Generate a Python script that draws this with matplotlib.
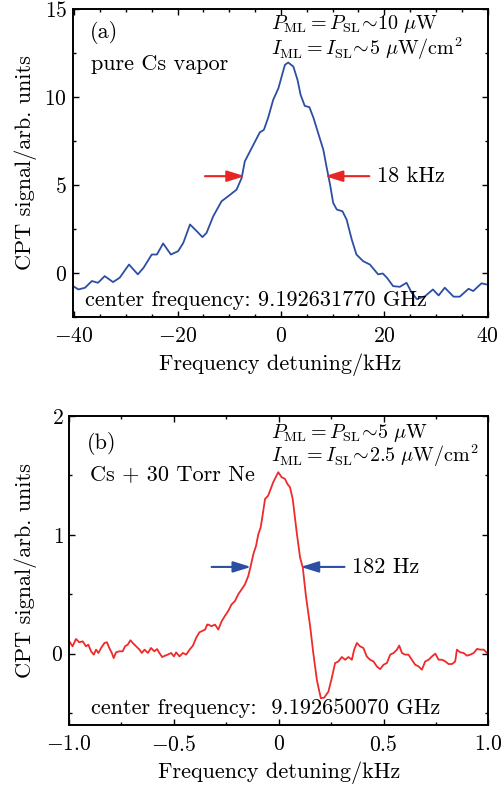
import matplotlib
matplotlib.use("Agg")
import matplotlib.pyplot as plt
from matplotlib.ticker import MultipleLocator

plt.rcParams['font.family'] = ['cmr10', 'DejaVu Serif']
plt.rcParams['mathtext.fontset'] = 'cm'
plt.rcParams['axes.formatter.use_mathtext'] = True
plt.rcParams['axes.unicode_minus'] = True

# ---- data: panel (a) pure Cs vapor ----
xa = [-40.2, -39.2, -37.9, -36.6, -35.4, -34.1, -32.5, -31.2, -29.4, -27.7,
      -26.6, -25.0, -24.0, -22.8, -21.3, -19.9, -18.9, -17.6, -16.3, -15.2,
      -14.4, -13.1, -11.5, -10.2, -8.6, -7.6, -7.0, -6.0, -5.0, -4.1,
      -3.3, -2.5, -1.5, -0.5, 0.13, 0.77, 1.4, 2.4, 3.2, 3.8,
      4.6, 5.5, 6.3, 7.2, 8.2, 8.8, 9.5, 10.1, 10.8, 11.9,
      12.7, 13.7, 14.6, 15.9, 17.2, 18.8, 19.7, 20.5, 21.7, 23.0,
      24.3, 25.3, 26.3, 27.9, 29.4, 30.5, 31.7, 33.4, 34.6, 36.3,
      37.2, 38.8, 39.7]
ya = [-0.76, -0.95, -0.85, -0.47, -0.57, -0.19, -0.53, -0.28, 0.47, -0.09,
      0.28, 1.04, 1.04, 1.67, 1.04, 1.23, 1.70, 2.75, 2.37, 2.03,
      2.27, 3.22, 4.07, 4.36, 4.73, 5.40, 6.34, 6.91, 7.48, 7.99,
      8.14, 8.81, 9.85, 10.50, 11.17, 11.84, 11.97, 11.74, 10.98, 10.13,
      9.50, 9.43, 8.81, 7.95, 7.00, 6.06, 5.02, 3.98, 3.60, 3.50,
      3.03, 1.89, 1.04, 0.66, 0.47, -0.09, -0.04, -0.28, -0.76, -0.80,
      -0.57, -1.14, -1.50, -1.33, -0.95, -1.29, -0.85, -1.36, -1.36, -0.91,
      -1.04, -0.60, -0.66]

# ---- data: panel (b) Cs + 30 Torr Ne ----
xb = [-0.999, -0.983, -0.967, -0.951, -0.935, -0.919, -0.908, -0.895, -0.882, -0.871,
      -0.860, -0.847, -0.831, -0.819, -0.808, -0.796, -0.787, -0.776, -0.760, -0.744,
      -0.733, -0.720, -0.707, -0.696, -0.680, -0.664, -0.653, -0.640, -0.624, -0.609,
      -0.593, -0.580, -0.569, -0.556, -0.542, -0.529, -0.513, -0.500, -0.489, -0.473,
      -0.457, -0.441, -0.425, -0.409, -0.394, -0.378, -0.362, -0.351, -0.341, -0.336,
      -0.320, -0.304, -0.288, -0.272, -0.257, -0.241, -0.225, -0.209, -0.193, -0.177,
      -0.161, -0.145, -0.134, -0.121, -0.108, -0.097, -0.086, -0.077, -0.065, -0.050,
      -0.038, -0.026, -0.018, -0.002, 0.014, 0.030, 0.041, 0.054, 0.067, 0.086,
      0.102, 0.115, 0.130, 0.150, 0.165, 0.182, 0.201, 0.217, 0.237, 0.253,
      0.269, 0.285, 0.301, 0.317, 0.333, 0.349, 0.360, 0.373, 0.388, 0.404,
      0.420, 0.436, 0.452, 0.468, 0.484, 0.500, 0.516, 0.532, 0.548, 0.564,
      0.575, 0.588, 0.603, 0.619, 0.635, 0.651, 0.667, 0.683, 0.699, 0.715,
      0.731, 0.747, 0.763, 0.779, 0.795, 0.810, 0.827, 0.842, 0.850, 0.866,
      0.882, 0.898, 0.914, 0.930, 0.946, 0.962, 0.978, 0.994, 1.000]
yb = [0.104, 0.062, 0.124, 0.096, 0.104, 0.062, 0.076, 0.020, -0.008, 0.034,
      0.006, 0.048, 0.090, 0.096, 0.048, 0.006, -0.037, 0.011, 0.020, 0.020,
      0.062, 0.076, 0.113, 0.090, 0.062, 0.034, 0.006, 0.034, 0.006, 0.048,
      0.020, 0.039, 0.006, -0.028, -0.017, -0.008, 0.006, -0.023, 0.011, -0.023,
      0.006, -0.008, 0.034, 0.068, 0.132, 0.180, 0.194, 0.203, 0.245, 0.245,
      0.231, 0.245, 0.203, 0.273, 0.316, 0.358, 0.414, 0.442, 0.499, 0.541,
      0.583, 0.654, 0.733, 0.837, 0.907, 1.006, 1.062, 1.161, 1.302, 1.330,
      1.386, 1.443, 1.471, 1.527, 1.485, 1.471, 1.430, 1.400, 1.300, 1.020,
      0.809, 0.724, 0.484, 0.231, 0.006, -0.220, -0.375, -0.370, -0.320, -0.206,
      -0.079, -0.065, -0.028, -0.051, -0.028, -0.051, 0.034, 0.090, 0.062, 0.048,
      -0.023, -0.051, -0.065, -0.107, -0.130, -0.093, -0.079, -0.008, 0.006, 0.034,
      0.068, 0.006, -0.008, -0.008, -0.051, -0.093, -0.107, -0.135, -0.065, -0.051,
      -0.023, 0.000, -0.051, -0.051, -0.065, -0.087, -0.087, -0.065, 0.034, 0.011,
      0.006, -0.017, -0.008, 0.006, 0.040, 0.034, 0.034, 0.006, -0.008]

FS = 16
TFS = 15.5
MFS = 14.5
BLUE = '#2c4ea3'
RED = '#ee2a2a'

fig = plt.figure(figsize=(5.02, 7.87), dpi=100)
ax1 = fig.add_axes([0.1448, 0.5976, 0.8267, 0.3906])
ax2 = fig.add_axes([0.1375, 0.0788, 0.8353, 0.3926])


def style(ax):
    for s in ax.spines.values():
        s.set_linewidth(1.4)
    ax.tick_params(which='both', direction='in', top=True, right=True,
                   labelsize=TFS, width=1.0)
    ax.tick_params(which='major', length=4)
    ax.tick_params(which='minor', length=2.5)
    ax.tick_params(axis='x', which='major', pad=7)
    ax.tick_params(axis='y', which='major', pad=4)


# ---- panel (a) ----
ax1.plot(xa, ya, color=BLUE, lw=1.3)
ax1.set_xlim(-40.3, 40)
ax1.set_ylim(-2.5, 15)
ax1.xaxis.set_major_locator(MultipleLocator(20))
ax1.xaxis.set_minor_locator(MultipleLocator(5))
ax1.yaxis.set_major_locator(MultipleLocator(5))
ax1.yaxis.set_minor_locator(MultipleLocator(2.5))
style(ax1)
ax1.set_xlabel('Frequency detuning/kHz', fontsize=FS)
ax1.set_ylabel('CPT signal/arb. units', fontsize=FS)
ax1.xaxis.set_label_coords(0.5, -0.119)
ax1.yaxis.set_label_coords(-0.086, 0.5)

arrow_kw = dict(arrowstyle='-|>,head_length=0.9,head_width=0.28', lw=1.5,
                mutation_scale=12, shrinkA=0, shrinkB=0)
ax1.annotate('', xy=(-7.0, 5.5), xytext=(-14.7, 5.5),
             arrowprops=dict(color='#e82525', **arrow_kw))
ax1.annotate('', xy=(8.5, 5.5), xytext=(17.1, 5.5),
             arrowprops=dict(color='#e82525', **arrow_kw))
ax1.text(18.5, 5.5, '18 kHz', fontsize=FS, va='center', ha='left')
ax1.text(0.042, 0.926, '(a)', transform=ax1.transAxes, fontsize=FS, va='center')
ax1.text(0.044, 0.822, 'pure Cs vapor', transform=ax1.transAxes, fontsize=FS, va='center')
ax1.text(0.477, 0.952, r'$P_{\rm ML} = P_{\rm SL}\!\sim\!10\ \mu{\rm W}$',
         transform=ax1.transAxes, fontsize=MFS, va='center')
ax1.text(0.477, 0.873, r'$I_{\rm ML} = I_{\rm SL}\!\sim\!5\ \mu{\rm W/cm^2}$',
         transform=ax1.transAxes, fontsize=MFS, va='center')
ax1.text(0.030, 0.054, 'center frequency: 9.192631770 GHz',
         transform=ax1.transAxes, fontsize=FS, va='center')

# ---- panel (b) ----
ax2.plot(xb, yb, color=RED, lw=1.3)
ax2.set_xlim(-1.0, 1.0)
ax2.set_ylim(-0.6, 2.0)
ax2.xaxis.set_major_locator(MultipleLocator(0.5))
ax2.xaxis.set_minor_locator(MultipleLocator(0.25))
ax2.yaxis.set_major_locator(MultipleLocator(1))
ax2.yaxis.set_minor_locator(MultipleLocator(0.5))
ax2.set_xticks([-1.0, -0.5, 0, 0.5, 1.0])
ax2.set_xticklabels([r'$-1.0$', r'$-0.5$', r'$0$', r'$0.5$', r'$1.0$'])
style(ax2)
ax2.set_xlabel('Frequency detuning/kHz', fontsize=FS)
ax2.set_ylabel('CPT signal/arb. units', fontsize=FS)
ax2.xaxis.set_label_coords(0.5, -0.119)
ax2.yaxis.set_label_coords(-0.076, 0.5)

ax2.annotate('', xy=(-0.132, 0.73), xytext=(-0.32, 0.73),
             arrowprops=dict(color=BLUE, **arrow_kw))
ax2.annotate('', xy=(0.105, 0.73), xytext=(0.314, 0.73),
             arrowprops=dict(color=BLUE, **arrow_kw))
ax2.text(0.352, 0.73, '182 Hz', fontsize=FS, va='center', ha='left')
ax2.text(0.042, 0.912, '(b)', transform=ax2.transAxes, fontsize=FS, va='center')
ax2.text(0.049, 0.812, 'Cs + 30 Torr Ne', transform=ax2.transAxes, fontsize=FS, va='center')
ax2.text(0.481, 0.944, r'$P_{\rm ML} = P_{\rm SL}\!\sim\!5\ \mu{\rm W}$',
         transform=ax2.transAxes, fontsize=MFS, va='center')
ax2.text(0.481, 0.871, r'$I_{\rm ML} = I_{\rm SL}\!\sim\!2.5\ \mu{\rm W/cm^2}$',
         transform=ax2.transAxes, fontsize=MFS, va='center')
ax2.text(0.052, 0.054, 'center frequency:  9.192650070 GHz',
         transform=ax2.transAxes, fontsize=FS, va='center')

fig.savefig('out.png', dpi=100)
